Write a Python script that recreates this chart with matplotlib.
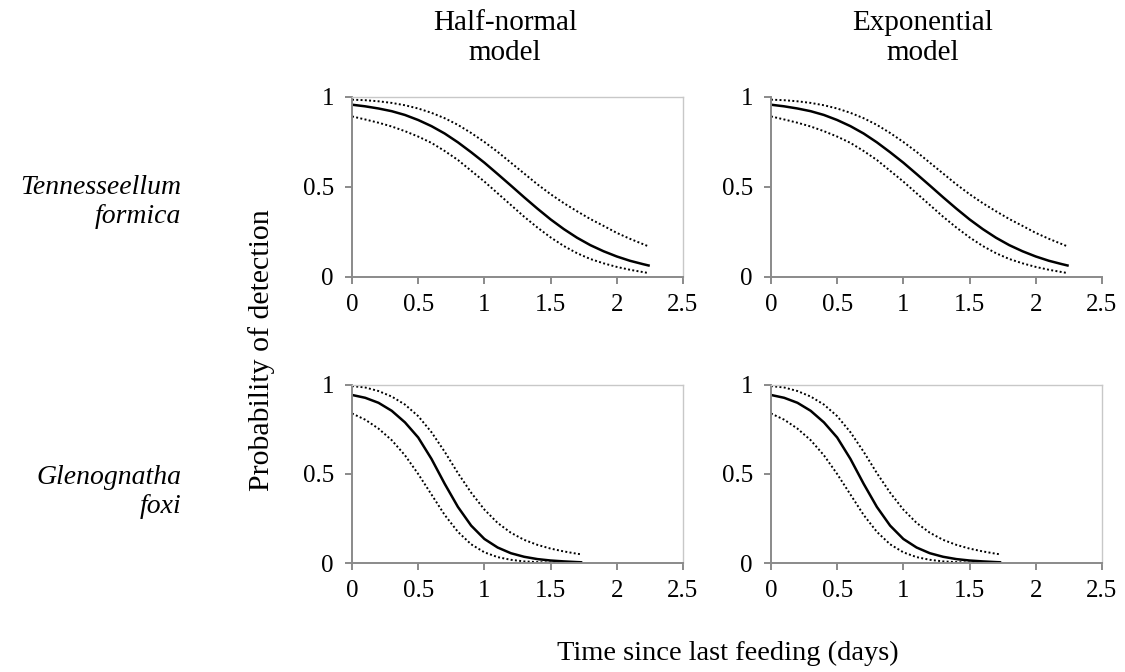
import matplotlib
matplotlib.use("Agg")
from matplotlib import pyplot as plt

# Tennesseellum formica, time grid (days) and read-off probabilities
tf_days = [0, 0.1, 0.2, 0.3, 0.4, 0.5, 0.6, 0.7, 0.8, 0.9, 1.0, 1.1, 1.2,
           1.3, 1.4, 1.5, 1.6, 1.7, 1.8, 1.9, 2.0, 2.1, 2.2, 2.24]
tf_hn_fit = [0.957, 0.948, 0.936, 0.921, 0.9, 0.872, 0.838, 0.797, 0.748, 0.693,
             0.635, 0.572, 0.508, 0.443, 0.38, 0.32, 0.266, 0.218, 0.177, 0.143,
             0.114, 0.09, 0.071, 0.064]
tf_hn_upper = [0.985, 0.982, 0.976, 0.967, 0.954, 0.936, 0.912, 0.882, 0.845, 0.8,
               0.75, 0.695, 0.635, 0.575, 0.515, 0.46, 0.41, 0.365, 0.322, 0.284,
               0.245, 0.212, 0.182, 0.17]
tf_hn_lower = [0.892, 0.875, 0.857, 0.836, 0.81, 0.78, 0.745, 0.7, 0.65, 0.59,
               0.53, 0.465, 0.4, 0.335, 0.275, 0.22, 0.172, 0.132, 0.1, 0.076,
               0.056, 0.04, 0.027, 0.022]
# the exponential model curves look the same at this resolution
tf_exp_fit = tf_hn_fit
tf_exp_upper = tf_hn_upper
tf_exp_lower = tf_hn_lower

# Glenognatha foxi
gf_days = [0, 0.1, 0.2, 0.3, 0.4, 0.5, 0.6, 0.7, 0.8, 0.9, 1.0, 1.1, 1.2,
           1.3, 1.4, 1.5, 1.6, 1.7, 1.73]
gf_hn_fit = [0.944, 0.928, 0.9, 0.855, 0.79, 0.705, 0.585, 0.445, 0.315, 0.21,
             0.135, 0.087, 0.055, 0.035, 0.022, 0.014, 0.009, 0.005, 0.004]
gf_hn_upper = [0.994, 0.986, 0.966, 0.935, 0.89, 0.825, 0.735, 0.625, 0.505, 0.395,
               0.3, 0.225, 0.17, 0.13, 0.102, 0.081, 0.065, 0.052, 0.049]
gf_hn_lower = [0.84, 0.805, 0.755, 0.69, 0.605, 0.5, 0.385, 0.27, 0.175, 0.105,
               0.06, 0.033, 0.018, 0.009, 0.005, 0.002, 0.001, 0.0, 0.0]
gf_exp_fit = gf_hn_fit
gf_exp_upper = gf_hn_upper
gf_exp_lower = gf_hn_lower

col_titles = ["Half-normal\nmodel", "Exponential\nmodel"]
row_labels = ["Tennesseellum\nformica", "Glenognatha\nfoxi"]
x_ticks = [0, 0.5, 1, 1.5, 2, 2.5]
y_ticks = [0, 0.5, 1]

plt.rcParams["font.family"] = ["Liberation Serif", "DejaVu Serif"]

AXIS_GREY = "#8a8a8a"
FRAME_GREY = "#c8c8c8"


def style_axes(ax, framed):
    ax.set_xlim(0, 2.5)
    ax.set_ylim(0, 1)
    ax.set_xticks(x_ticks)
    ax.set_xticklabels(["0", "0.5", "1", "1.5", "2", "2.5"])
    ax.set_yticks(y_ticks)
    ax.set_yticklabels(["0", "0.5", "1"])
    for side in ("left", "bottom"):
        ax.spines[side].set_color(AXIS_GREY)
        ax.spines[side].set_linewidth(1.4)
    for side in ("top", "right"):
        ax.spines[side].set_visible(framed)
        ax.spines[side].set_color(FRAME_GREY)
        ax.spines[side].set_linewidth(1.0)
    ax.tick_params(axis="both", direction="out", length=5, width=1.4,
                   color=AXIS_GREY, labelsize=18)
    ax.tick_params(axis="y", pad=8)
    ax.tick_params(axis="x", pad=7)


def draw_panel(ax, days, fit, upper, lower):
    ax.plot(days, upper, color="black", lw=1.4, linestyle=(0, (1, 1.2)))
    ax.plot(days, lower, color="black", lw=1.4, linestyle=(0, (1, 1.2)))
    ax.plot(days, fit, color="black", lw=1.8)


fig = plt.figure(figsize=(11.25, 6.72), dpi=100)

lefts = [0.3129, 0.6853]
bottoms = [0.5878, 0.1622]
heights = [0.2679, 0.2649]
width = 0.2942

panels = [
    [(tf_days, tf_hn_fit, tf_hn_upper, tf_hn_lower),
     (tf_days, tf_exp_fit, tf_exp_upper, tf_exp_lower)],
    [(gf_days, gf_hn_fit, gf_hn_upper, gf_hn_lower),
     (gf_days, gf_exp_fit, gf_exp_upper, gf_exp_lower)],
]
framed = [[True, False], [True, True]]

for r in range(2):
    for c in range(2):
        ax = fig.add_axes([lefts[c], bottoms[r], width, heights[r]])
        draw_panel(ax, *panels[r][c])
        style_axes(ax, framed[r][c])

# column titles
fig.text(505 / 1125, 1 - 38 / 672, col_titles[0], ha="center", va="center",
         fontsize=21, linespacing=1.2)
fig.text(923 / 1125, 1 - 38 / 672, col_titles[1], ha="center", va="center",
         fontsize=21, linespacing=1.2)

# row labels
fig.text(181 / 1125, 1 - 202 / 672, row_labels[0], ha="right", va="center",
         fontsize=20, style="italic", linespacing=1.25, multialignment="right")
fig.text(181 / 1125, 1 - 492 / 672, row_labels[1], ha="right", va="center",
         fontsize=20, style="italic", linespacing=1.25, multialignment="right")

fig.text(262 / 1125, 1 - 350 / 672, "Probability of detection", rotation=90,
         ha="center", va="center", fontsize=21.5)
fig.text(728 / 1125, 1 - 653 / 672, "Time since last feeding (days)",
         ha="center", va="center", fontsize=20.5)

fig.savefig("out.png", dpi=100)
